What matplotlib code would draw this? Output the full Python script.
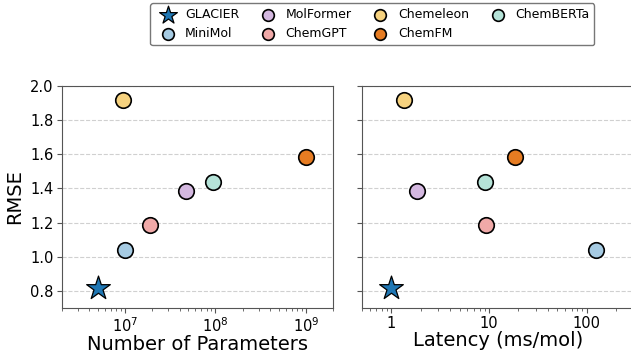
import matplotlib.pyplot as plt
import numpy as np

# model names and data
models = ['GLACIER', 'MiniMol', 'MolFormer', 'ChemGPT', 'Chemeleon', 'ChemFM', 'ChemBERTa']
params = [5.0e6, 1.0e7, 4.7e7, 1.9e7, 9.5e6, 1.0e9, 9.3e7]
latency = [1.0, 123, 1.85, 9.3, 1.33, 18.4, 9.1]
rmse = [0.815, 1.04, 1.385, 1.188, 1.918, 1.585, 1.44]

colors = ['#1f77b4', '#a6cbe3', '#d4b8e0', '#f0a9a8', '#f6d27f', '#e67c22', '#b5e3d8']

fig = plt.figure(figsize=(6.31, 3.53), dpi=100)
ax1 = fig.add_axes([0.098, 0.128, 0.43, 0.628])
ax2 = fig.add_axes([0.5737, 0.128, 0.43, 0.628], sharey=ax1)

handles = []
for ax, xs in [(ax1, params), (ax2, latency)]:
    for i, m in enumerate(models):
        if m == 'GLACIER':
            h = ax.scatter(xs[i], rmse[i], marker='*', s=320, c=colors[i],
                           edgecolors='black', linewidths=0.9, zorder=3, label=m)
        else:
            h = ax.scatter(xs[i], rmse[i], marker='o', s=125, c=colors[i],
                           edgecolors='black', linewidths=1.2, zorder=3, label=m)
        if ax is ax1:
            handles.append(h)
    ax.set_xscale('log')
    ax.grid(axis='y', linestyle='--', color='#d0d0d0', linewidth=0.8)
    ax.set_axisbelow(True)
    for s in ax.spines.values():
        s.set_color('#555555')
    ax.tick_params(labelsize=10.5, color='#555555', length=3.5, pad=2.5)
    ax.tick_params(which='minor', length=2, color='#555555')

ax1.set_xlim(2e6, 2e9)
ax2.set_xlim(0.5, 300)
ax1.set_ylim(0.7, 2.0)
ax1.set_yticks([0.8, 1.0, 1.2, 1.4, 1.6, 1.8, 2.0])
ax2.set_xticks([1, 10, 100])
ax2.set_xticklabels(['1', '10', '100'])
ax2.tick_params(labelleft=False)

ax1.set_xlabel('Number of Parameters', fontsize=14, labelpad=0)
ax2.set_xlabel('Latency (ms/mol)', fontsize=14, labelpad=0)
ax1.set_ylabel('RMSE', fontsize=14, labelpad=4)

fig.legend(handles=handles, loc='upper center', bbox_to_anchor=(0.59, 1.008),
           ncol=4, fontsize=9, frameon=True, edgecolor='#555555',
           handletextpad=0.4, columnspacing=1.3, borderpad=0.4,
           labelspacing=0.45, markerscale=0.75)

fig.savefig('out.png', dpi=100)
